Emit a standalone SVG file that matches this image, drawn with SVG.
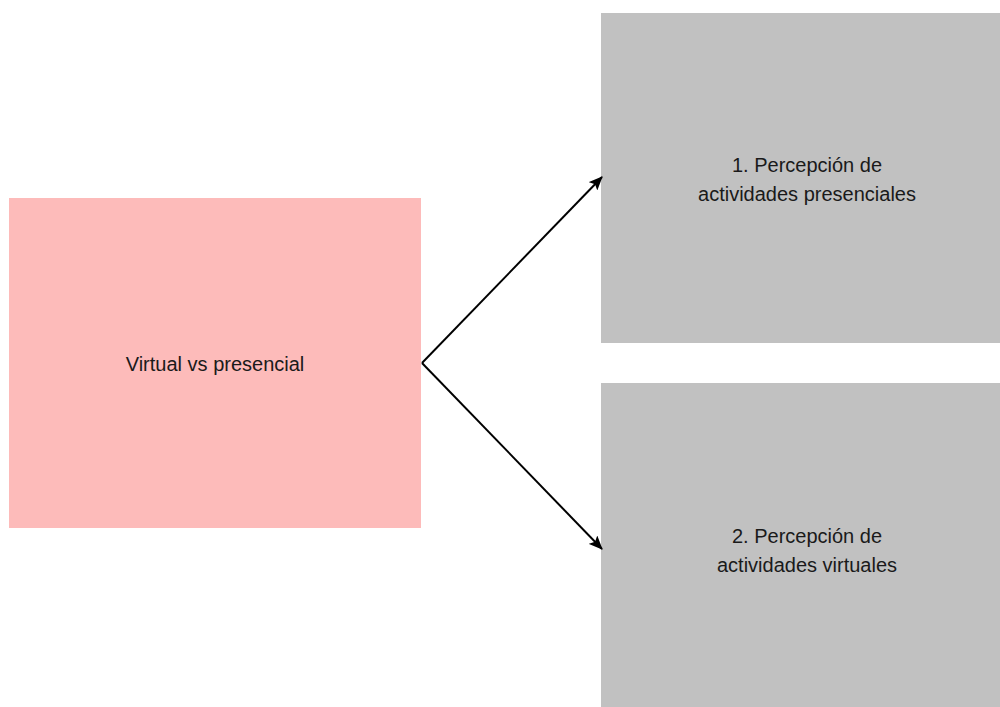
<svg xmlns="http://www.w3.org/2000/svg" width="1000" height="707" viewBox="0 0 1000 707">
  <style>
    .lbl { font-family: "Liberation Sans", Arial, sans-serif; font-size: 20px; fill: #1a1a1a; text-anchor: middle; }
    .conn { fill: none; stroke: #000; stroke-width: 2; }
  </style>
  <defs>
    <marker id="arrow" markerWidth="14" markerHeight="12" refX="13" refY="6" orient="auto" markerUnits="userSpaceOnUse">
      <path d="M0,0 L14,6 L0,12 L3,6 Z" fill="#000"/>
    </marker>
  </defs>
  <rect width="1000" height="707" fill="#fff"/>

  <g id="node-main">
    <rect x="9" y="198" width="412" height="330" fill="#fdbbba"/>
    <text class="lbl" x="215" y="371">Virtual vs presencial</text>
  </g>

  <g id="node-presencial">
    <rect x="601" y="13" width="412" height="330" fill="#c1c1c1"/>
    <text class="lbl" x="807" y="172">1. Percepción de</text>
    <text class="lbl" x="807" y="201">actividades presenciales</text>
  </g>

  <g id="node-virtual">
    <rect x="601" y="383" width="412" height="330" fill="#c1c1c1"/>
    <text class="lbl" x="807" y="543">2. Percepción de</text>
    <text class="lbl" x="807" y="572">actividades virtuales</text>
  </g>

  <g id="connectors">
    <line class="conn" x1="422" y1="363" x2="602" y2="177" marker-end="url(#arrow)"/>
    <line class="conn" x1="422" y1="363" x2="602" y2="549" marker-end="url(#arrow)"/>
  </g>
</svg>
